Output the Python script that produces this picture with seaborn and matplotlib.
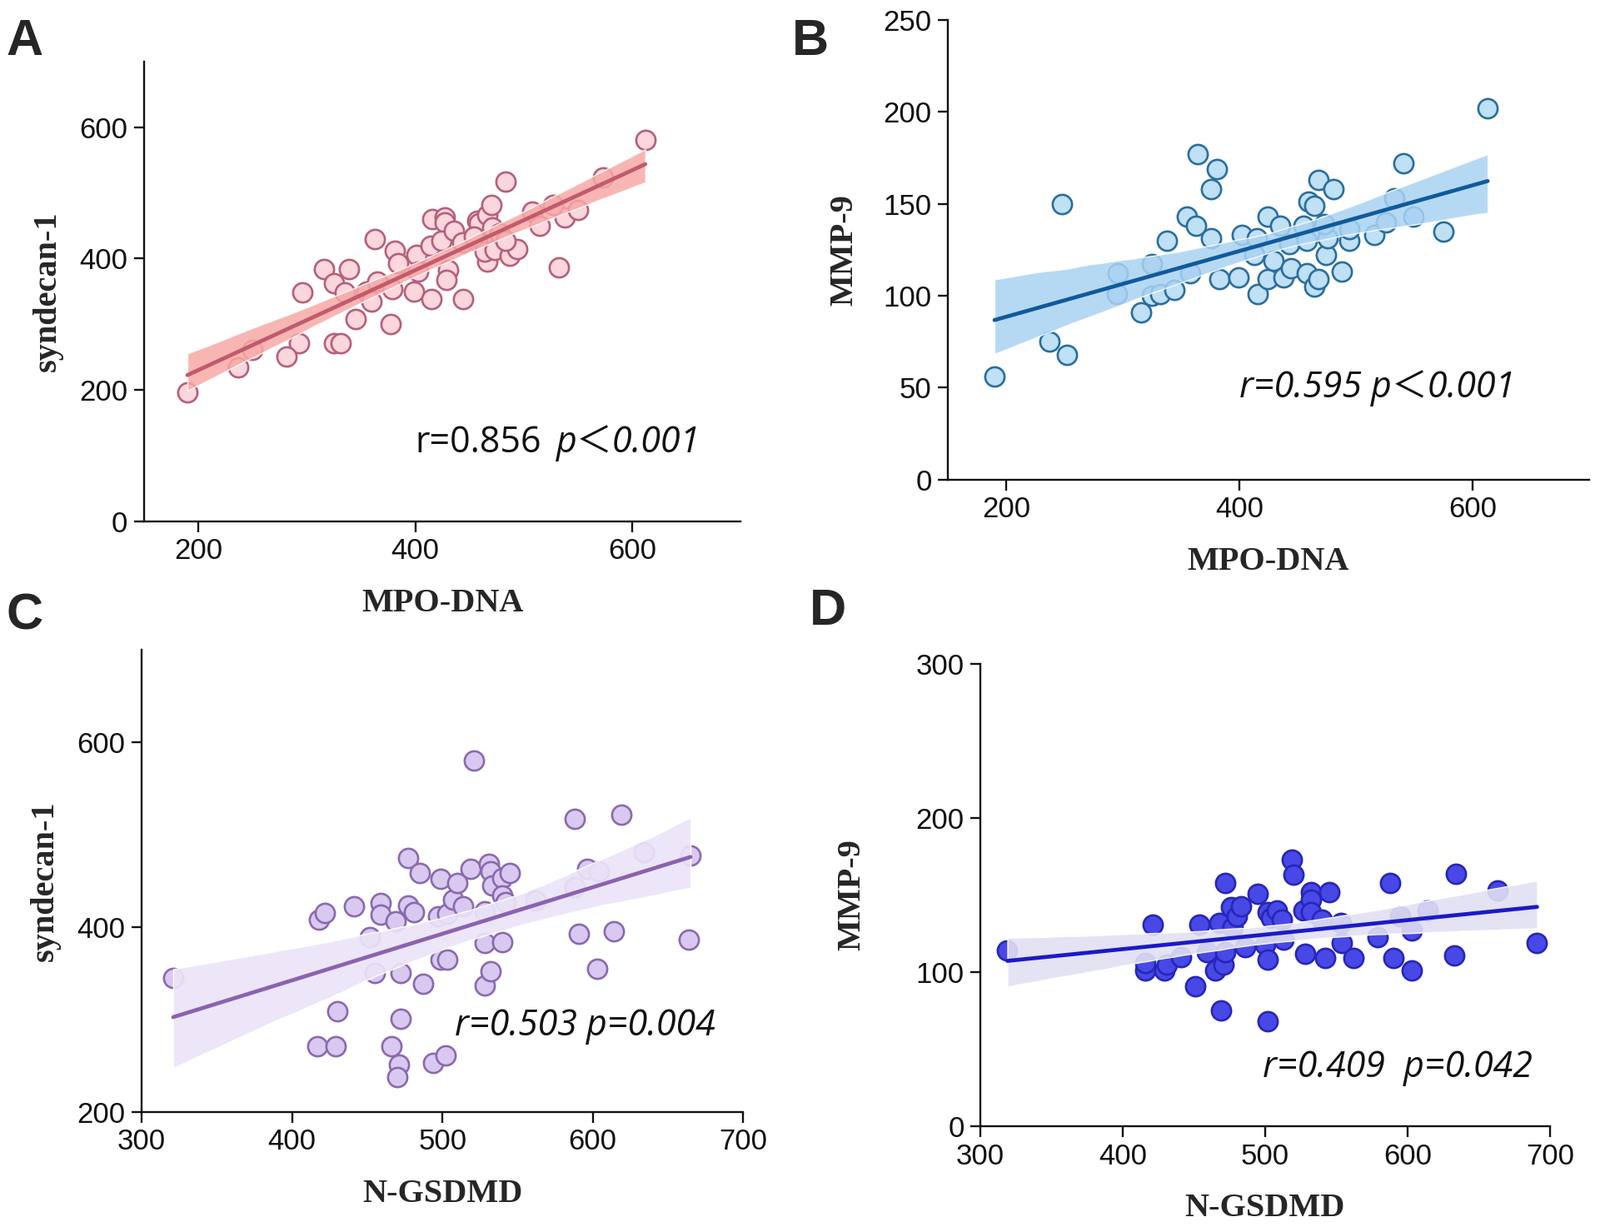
import matplotlib
matplotlib.use('Agg')
import numpy as np
import matplotlib.pyplot as plt
import seaborn as sns
from matplotlib.collections import PolyCollection

sns.set_style("ticks")
plt.rcParams['font.family'] = ['Liberation Sans', 'DejaVu Sans']

# A: MPO-DNA vs syndecan-1
mpo_a = [190, 612, 483, 573, 532, 444, 377, 363, 316, 339, 296, 325, 293, 281, 325,
         331, 237, 250, 345, 335, 355, 360, 365, 381, 384, 379, 399, 401, 403, 414,
         415, 416, 427, 427, 424, 430, 429, 436, 443, 457, 459, 466, 470, 471, 457,
         466, 464, 473, 478, 487, 494, 508, 515, 538, 550, 527, 454, 483]
syn_a = [197, 580, 517, 524, 386, 338, 301, 429, 384, 384, 349, 362, 271, 251, 271,
         271, 235, 261, 308, 349, 350, 335, 365, 412, 393, 353, 350, 405, 380, 420,
         339, 460, 462, 455, 427, 383, 368, 442, 424, 457, 454, 466, 482, 448, 427,
         395, 410, 413, 439, 404, 414, 472, 450, 463, 474, 481, 433, 427]

# B: MPO-DNA vs MMP-9
mpo_b = [190, 237, 252, 248, 316, 295, 296, 325, 325, 332, 344, 338, 355, 363, 364,
         376, 376, 381, 383, 358, 399, 402, 415, 413, 416, 424, 424, 429, 435, 438,
         444, 443, 455, 458, 458, 459, 464, 468, 464, 468, 474, 476, 481, 488, 494,
         494, 516, 526, 533, 541, 549, 575, 613, 473]
mmp_b = [56, 75, 68, 150, 91, 101, 112, 117, 100, 101, 103, 130, 143, 138, 177,
         131, 158, 169, 109, 112, 110, 133, 131, 122, 101, 143, 109, 119, 138, 110,
         115, 128, 138, 130, 112, 151, 149, 163, 105, 109, 122, 131, 158, 113, 130,
         136, 133, 140, 153, 172, 143, 135, 202, 139]

# C: N-GSDMD vs syndecan-1
gsd_c = [321, 418, 422, 441, 430, 417, 429, 455, 459, 459, 469, 472, 472, 466, 471,
         470, 477, 477, 481, 485, 487, 494, 502, 499, 497, 503, 499, 503, 507, 510,
         514, 519, 521, 528, 528, 528, 532, 531, 532, 533, 540, 545, 540, 542, 540,
         562, 588, 588, 591, 596, 604, 603, 614, 619, 634, 664, 665, 452]
syn_c = [345, 408, 415, 422, 309, 271, 271, 350, 426, 413, 406, 350, 301, 271, 251,
         238, 475, 423, 416, 458, 339, 253, 261, 452, 412, 414, 365, 365, 430, 448,
         422, 463, 580, 417, 383, 337, 352, 468, 460, 445, 453, 458, 434, 427, 384,
         429, 517, 443, 393, 463, 460, 355, 395, 521, 481, 386, 477, 389]

# D: N-GSDMD vs MMP-9
gsd_d = [319, 416, 416, 421, 429, 431, 441, 451, 454, 459, 465, 469, 471, 472, 468,
         472, 476, 477, 480, 483, 486, 495, 500, 502, 502, 502, 504, 508, 512, 513,
         519, 520, 528, 527, 532, 532, 532, 540, 542, 545, 553, 554, 562, 579, 588,
         590, 595, 603, 603, 614, 633, 634, 663, 691]
mmp_d = [114, 101, 106, 131, 101, 105, 110, 91, 131, 113, 101, 75, 105, 158, 132,
         113, 142, 129, 136, 143, 116, 151, 118, 108, 68, 139, 135, 140, 134, 121,
         173, 163, 112, 140, 152, 147, 139, 134, 109, 152, 132, 119, 109, 123, 158,
         109, 136, 127, 101, 140, 111, 164, 153, 119]


def draw_panel(ax, x, y, fill, edge, line, band, band_alpha,
               xlim, ylim, xticks, yticks, xlabel, ylabel, xpad, ypad):
    sns.regplot(x=x, y=y, ax=ax, ci=95, seed=0, color=fill, truncate=True,
                scatter_kws=dict(s=280, facecolor=fill, edgecolor=edge,
                                 linewidths=1.9, alpha=1, zorder=2),
                line_kws=dict(color=line, lw=3.4, zorder=4))
    for c in ax.collections:
        if isinstance(c, PolyCollection):
            c.set_facecolor(band)
            c.set_alpha(band_alpha)
            c.set_zorder(3)
    ax.set_xlim(*xlim)
    ax.set_ylim(*ylim)
    ax.set_xticks(xticks)
    ax.set_yticks(yticks)
    sns.despine(ax=ax)
    for s in ['left', 'bottom']:
        ax.spines[s].set_linewidth(1.7)
        ax.spines[s].set_color('#111111')
    ax.tick_params(direction='out', length=9, width=1.7, labelsize=25, pad=5,
                   colors='#111111')
    ax.set_xlabel(xlabel, family='Liberation Serif', fontweight='bold',
                  fontsize=29, labelpad=xpad)
    ax.set_ylabel(ylabel, family='Liberation Serif', fontweight='bold',
                  fontsize=29, labelpad=ypad)


fig = plt.figure(figsize=(19.21, 14.73), dpi=100)
ax_a = fig.add_axes([0.090, 0.575, 0.373, 0.375])
ax_b = fig.add_axes([0.5924, 0.609, 0.4008, 0.375])
ax_c = fig.add_axes([0.0885, 0.0937, 0.376, 0.377])
ax_d = fig.add_axes([0.6127, 0.082, 0.356, 0.377])

draw_panel(ax_a, mpo_a, syn_a, '#fbd6dc', '#b4607c', '#c25a6e', '#f7a9a6', 0.85,
           (150, 700), (0, 700), [200, 400, 600], [0, 200, 400, 600],
           'MPO-DNA', 'syndecan-1', 20, 14)
draw_panel(ax_b, mpo_b, mmp_b, '#bfe0f5', '#2a6e9e', '#105a9c', '#a9d3f2', 0.85,
           (150, 700), (0, 250), [200, 400, 600], [0, 50, 100, 150, 200, 250],
           'MPO-DNA', 'MMP-9', 20, 20)
draw_panel(ax_c, gsd_c, syn_c, '#d9c9f0', '#8a6aae', '#8c62b0', '#ebe4f8', 0.92,
           (300, 700), (200, 700), [300, 400, 500, 600, 700], [200, 400, 600],
           'N-GSDMD', 'syndecan-1', 20, 14)
draw_panel(ax_d, gsd_d, mmp_d, '#4848e6', '#2626b8', '#1a1ac8', '#e2e0f2', 0.9,
           (300, 700), (0, 300), [300, 400, 500, 600, 700], [0, 100, 200, 300],
           'N-GSDMD', 'MMP-9', 20, 42)

txt = dict(fontsize=31, va='center', ha='left', color='#111111')
fam = ['Open Sans', 'Noto Sans CJK SC', 'DejaVu Sans']
ax_a.text(400, 120, 'r=0.856', family=fam, **txt)
ax_a.text(530, 120, 'p＜0.001', family=fam, style='italic', **txt)
ax_b.text(400, 50, 'r=0.595 p＜0.001', family=fam, style='italic', **txt)
ax_c.text(508, 293, 'r=0.503 p=0.004', family=fam, style='italic', **txt)
ax_d.text(498, 38, 'r=0.409  p=0.042', family=fam, style='italic', **txt)

lab = dict(fontsize=44, fontweight='bold', va='top', ha='left',
           family='Liberation Sans')
fig.text(0.004, 0.985, 'A', **lab)
fig.text(0.495, 0.985, 'B', **lab)
fig.text(0.004, 0.517, 'C', **lab)
fig.text(0.506, 0.521, 'D', **lab)

fig.savefig('out.png', dpi=100)
